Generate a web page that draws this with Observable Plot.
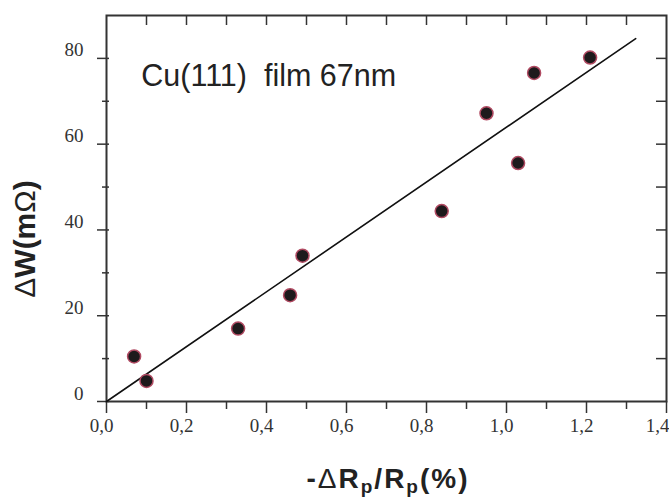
<!DOCTYPE html>
<html><head><meta charset="utf-8">
<script src="https://cdn.jsdelivr.net/npm/d3@7"></script>
<script src="https://cdn.jsdelivr.net/npm/@observablehq/plot@0.6"></script>
<style>body{margin:0;background:#fff}</style>
</head><body><div id="chart"></div>
<script>
// Data
const xValues = [0.069, 0.10, 0.329, 0.459, 0.49, 0.838, 0.95, 1.029, 1.069, 1.209];
const yValues = [10.5, 4.8, 17.0, 24.8, 34.0, 44.4, 67.2, 55.6, 76.6, 80.2];
const fitX = [0, 1.323];
const fitY = [0, 84.6];
const xMajorTicks = [0, 0.2, 0.4, 0.6, 0.8, 1.0, 1.2, 1.4];
const xTickLabels = ["0,0", "0,2", "0,4", "0,6", "0,8", "1,0", "1,2", "1,4"];
const xMinorTicks = [0.1, 0.3, 0.5, 0.7, 0.9, 1.1, 1.3];
const xTopTicks = [0.1, 0.2, 0.3, 0.4, 0.5, 0.6, 0.7, 0.8, 0.9, 1.0, 1.1, 1.2, 1.3];
const yMajorTicks = [0, 20, 40, 60, 80];
const yMinorTicks = [10, 30, 50, 70];
const yRightTicks = [10, 20, 30, 40, 50, 60, 70, 80];
const annotation = ["Cu(111)  film 67nm"];
const annotationX = [0.087];
const annotationY = [73.5];

const W = 669, H = 497;
const mL = 106, mR = 3, mT = 15, mB = 96;
const pw = W - mL - mR, ph = H - mT - mB;

const points = xValues.map((x, i) => ({x, y: yValues[i]}));
const fit = fitX.map((x, i) => ({x, y: fitY[i]}));
const ann = annotation.map((t, i) => ({t, x: annotationX[i], y: annotationY[i]}));
const ink = "#333";
const lastX = xMajorTicks[xMajorTicks.length - 1];
const fmtX = d => xTickLabels[xMajorTicks.indexOf(d)];

const chart = Plot.plot({
  width: W, height: H,
  marginLeft: mL, marginRight: mR, marginTop: mT, marginBottom: mB,
  style: {fontFamily: "Liberation Serif", fontSize: "19px", background: "#fff"},
  x: {domain: [0, 1.4]},
  y: {domain: [0, 90]},
  marks: [
    // bottom ticks (outward)
    Plot.tickX(xMajorTicks, {x: d => d, insetTop: ph, insetBottom: -12, stroke: ink, strokeWidth: 1.5}),
    Plot.tickX(xMinorTicks, {x: d => d, insetTop: ph, insetBottom: -8, stroke: ink, strokeWidth: 1.5}),
    // top ticks (inward)
    Plot.tickX(xTopTicks, {x: d => d, insetTop: 0, insetBottom: ph - 10, stroke: ink, strokeWidth: 1.5}),
    // left ticks (outward, slightly crossing)
    Plot.tickY(yMajorTicks, {y: d => d, insetLeft: -9, insetRight: pw - 3, stroke: ink, strokeWidth: 1.5}),
    Plot.tickY(yMinorTicks, {y: d => d, insetLeft: -4, insetRight: pw - 3, stroke: ink, strokeWidth: 1.5}),
    // right ticks (inward)
    Plot.tickY(yRightTicks, {y: d => d, insetLeft: pw - 10, insetRight: 0, stroke: ink, strokeWidth: 1.5}),
    // tick labels
    Plot.axisX({ticks: xMajorTicks.slice(0, -1), tickSize: 0, tickPadding: 17, dx: -5, label: null,
      tickFormat: fmtX, fill: ink, fontFamily: "Liberation Serif", fontSize: 19}),
    Plot.axisX({ticks: [lastX], tickSize: 0, tickPadding: 17, dx: 3, textAnchor: "end", label: null,
      tickFormat: fmtX, fill: ink, fontFamily: "Liberation Serif", fontSize: 19}),
    Plot.axisY({ticks: yMajorTicks, tickSize: 0, tickPadding: 23, dy: -8, label: null,
      tickFormat: d => String(d), fill: ink, fontFamily: "Liberation Serif", fontSize: 19}),
    Plot.frame({stroke: ink, strokeWidth: 2}),
    Plot.line(fit, {x: "x", y: "y", stroke: "#111", strokeWidth: 1.6}),
    Plot.dot(points, {x: "x", y: "y", r: 6.5, fill: "#1e1a1c", stroke: "#b04a62", strokeWidth: 1.5}),
    Plot.text(ann, {x: "x", y: "y", text: "t", textAnchor: "start", lineAnchor: "bottom",
      fontFamily: "Liberation Sans", fontSize: 30.5, fill: "#222"})
  ]
});

const svg = d3.select(chart);
// y axis title
const yt = svg.append("text")
  .attr("transform", "translate(35,239) rotate(-90)")
  .attr("text-anchor", "middle")
  .attr("font-family", "Liberation Sans")
  .attr("font-size", 30)
  .attr("font-weight", "bold")
  .attr("fill", "#222");
yt.append("tspan").attr("font-weight", "normal").text("Δ");
yt.append("tspan").text("W(m");
yt.append("tspan").attr("font-weight", "normal").text("Ω");
yt.append("tspan").text(")");

// x axis title
const xt = svg.append("text")
  .attr("x", mL + pw / 2 + 2).attr("y", 487.5)
  .attr("text-anchor", "middle")
  .attr("font-family", "Liberation Sans")
  .attr("font-size", 28)
  .attr("font-weight", "bold")
  .attr("letter-spacing", 2)
  .attr("fill", "#222");
xt.append("tspan").text("-");
xt.append("tspan").attr("font-weight", "normal").text("Δ");
xt.append("tspan").text("R");
xt.append("tspan").attr("font-size", 19).attr("dy", 5).text("p");
xt.append("tspan").attr("dy", -5).text("/");
xt.append("tspan").text("R");
xt.append("tspan").attr("font-size", 19).attr("dy", 5).text("p");
xt.append("tspan").attr("dy", -5).text("(%)");

document.getElementById("chart").appendChild(chart);
</script>
</body></html>
